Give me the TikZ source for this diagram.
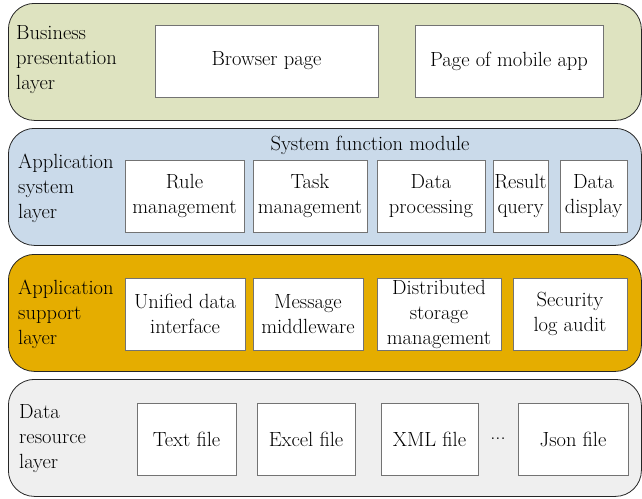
\documentclass[tikz,border=0pt]{standalone}
\usepackage{tikz}
\definecolor{bizgreen}{RGB}{222,227,192}
\definecolor{appblue}{RGB}{202,218,234}
\definecolor{supgold}{RGB}{229,173,0}
\definecolor{resgray}{RGB}{239,239,239}
\tikzset{
	layer/.style={draw=black!85, line width=0.8pt, rounded corners=26pt, anchor=north west,
		minimum width=633pt, minimum height=117pt},
	layertext/.style={anchor=west, align=left, inner sep=0pt},
	module/.style={draw=black!55, line width=0.6pt, fill=white, align=center, inner sep=0pt,
		minimum height=72pt}
}

\begin{document}
\begin{tikzpicture}[x=1pt, y=-1pt, font=\fontsize{20.5}{25}\selectfont]
		\useasboundingbox (0,0) rectangle (642,498);

		% layers
		\node[layer, fill=bizgreen] (biz) at (8,3) {};
		\node[layer, fill=appblue] (app) at (8,128) {};
		\node[layer, fill=supgold] (sup) at (8,254) {};
		\node[layer, fill=resgray] (res) at (8,379) {};

		% business presentation layer
		\node[layertext] (bizlabel) at (16,60) {Business\\presentation\\layer};
		\node[module, minimum width=223pt] (browser) at (266.5,61) {Browser page};
		\node[module, minimum width=188pt] (mobile) at (509,61) {Page of mobile app};

		% application system layer
		\node[layertext] (applabel) at (18,188) {Application\\system\\layer};
		\node (sysfun) at (370,145) {System function module};
		\node[module, minimum width=119pt] (rule) at (184.5,196) {Rule\\management};
		\node[module, minimum width=114pt] (task) at (310,196) {Task\\management};
		\node[module, minimum width=108pt] (dataproc) at (431,196) {Data\\processing};
		\node[module, minimum width=55pt] (result) at (520.5,196) {Result\\query};
		\node[module, minimum width=67pt] (display) at (593.5,196) {Data\\display};

		% application support layer
		\node[layertext] (suplabel) at (18,314) {Application\\support\\layer};
		\node[module, minimum width=120pt] (unified) at (185,314) {Unified data\\interface};
		\node[module, minimum width=110pt] (message) at (308,314) {Message\\middleware};
		\node[module, minimum width=124pt] (storage) at (439,314) {Distributed\\storage\\management};
		\node[module, minimum width=114pt] (security) at (570,314) {Security\\log audit};

		% data resource layer
		\node[layertext] (reslabel) at (19,439) {Data\\resource\\layer};
		\node[module, minimum width=99pt] (textfile) at (186.5,439) {Text file};
		\node[module, minimum width=98pt] (excel) at (306,439) {Excel file};
		\node[module, minimum width=97pt] (xml) at (429.5,439) {XML file};
		\node (dots) at (498,439) {...};
		\node[module, minimum width=110pt] (json) at (573,439) {Json file};
	\end{tikzpicture}
\end{document}
